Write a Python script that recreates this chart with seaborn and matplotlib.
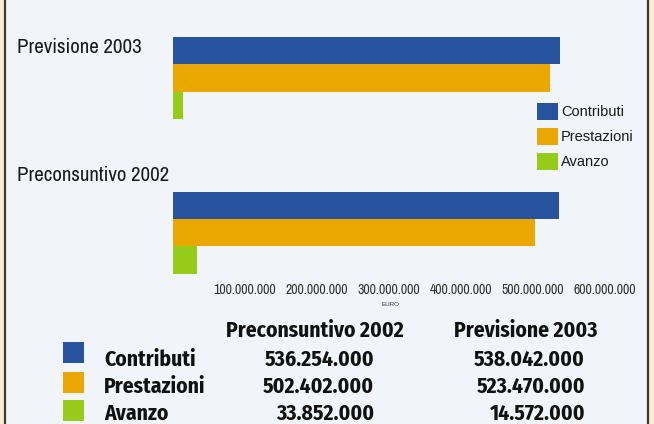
import matplotlib
matplotlib.use("Agg")
import matplotlib.pyplot as plt
from matplotlib.patches import Rectangle
import seaborn as sns
import pandas as pd

# ---- data ----
categories = ["Previsione 2003", "Preconsuntivo 2002"]
series = ["Contributi", "Prestazioni", "Avanzo"]
contributi = [538042000, 536254000]
prestazioni = [523470000, 502402000]
avanzo = [14572000, 33852000]
tick_values = [100000000, 200000000, 300000000, 400000000, 500000000, 600000000]
axis_label = "EURO"
table_columns = ["Preconsuntivo 2002", "Previsione 2003"]

colors = ["#27529e", "#e9a700", "#96cb1b"]
panel_bg = "#f1f4f8"
outer_bg = "#fdecd4"
COND = ["Archivo Narrow", "DejaVu Sans"]
BOLDC = ["Fira Sans Condensed", "DejaVu Sans"]

W, H = 654, 424

def px(x, y):
    return x / W, 1 - y / H

def fmt(v):
    return f"{v:,}".replace(",", ".")

sns.set_theme(style="white")
plt.rcParams["font.family"] = ["Liberation Sans", "DejaVu Sans"]

rows = []
for s, vals in zip(series, [contributi, prestazioni, avanzo]):
    for c, v in zip(categories, vals):
        rows.append({"categoria": c, "serie": s, "valore": v})
df = pd.DataFrame(rows)

fig = plt.figure(figsize=(W / 100, H / 100), dpi=100)
fig.patch.set_facecolor(outer_bg)
fig.patches.append(Rectangle((5.5 / W, -0.01), (647.5 - 5.5) / W, 1.02,
                             transform=fig.transFigure, facecolor=panel_bg,
                             edgecolor="#3a3a3a", linewidth=1.6, zorder=-5))

ax_left, ax_top, ax_bottom = 173, 0, 280
ax_right = 173 + 620 * 0.72
ax = fig.add_axes([ax_left / W, 1 - ax_bottom / H, (ax_right - ax_left) / W,
                   (ax_bottom - ax_top) / H])
ax.set_facecolor("none")
ax.set_zorder(1)

sns.barplot(data=df, y="categoria", x="valore", hue="serie", order=categories,
            hue_order=series, palette=colors, orient="h", width=0.53,
            saturation=1, ax=ax, linewidth=0, legend=True)

ax.set_xlim(0, 620000000)
ax.set_ylim(1.307, -0.505)
for sp in ax.spines.values():
    sp.set_visible(False)
ax.set_yticks([])
ax.set_ylabel("")
ax.set_xlabel("")
ax.set_xticks(tick_values)
ax.set_xticklabels([fmt(v) for v in tick_values], family=COND, fontsize=10,
                   color="#333333")
ax.tick_params(axis="x", length=0, pad=2)

fig.text(*px(390, 305), axis_label, ha="center", va="center", fontsize=4.5,
         color="#333333", family=["Liberation Sans", "DejaVu Sans"])

# category labels above the bar groups
for c, yb in zip(categories, [53, 181]):
    fig.text(*px(17, yb), c, ha="left", va="baseline", fontsize=15,
             family=COND, color="#1a1a1a")

# legend
handles, labels = ax.get_legend_handles_labels()
if ax.get_legend() is not None:
    ax.get_legend().remove()
fig.legend(handles, labels, loc="upper left", bbox_to_anchor=px(537, 103),
           bbox_transform=fig.transFigure, frameon=False, borderpad=0,
           borderaxespad=0, handlelength=1.44, handleheight=1.44,
           labelspacing=0.52, handletextpad=0.2, fontsize=10.5,
           labelcolor="#1a1a1a")

# data table below the chart
hdr_x = [315, 526]
FS = 15.5
WT = "bold"
for t, xc in zip(table_columns, hdr_x):
    fig.text(*px(xc, 337), t, ha="center", va="baseline", fontsize=FS,
             family=BOLDC, weight=WT, color="#111111")

col_right = [374, 585]
row_base = [366, 393, 420]
row_sq_top = [342, 372, 400]
for s, vals, col, yb, yt in zip(series, [contributi, prestazioni, avanzo],
                                colors, row_base, row_sq_top):
    fig.patches.append(Rectangle(px(63, yt + 21), 21 / W, 21 / H,
                                 transform=fig.transFigure, facecolor=col,
                                 edgecolor="none", zorder=2))
    fig.text(*px(104, yb), s, ha="left", va="baseline", fontsize=FS,
             family=BOLDC, weight=WT, color="#111111")
    # table columns: 2002 then 2003 (vals are ordered 2003, 2002)
    for v, xr in zip([vals[1], vals[0]], col_right):
        fig.text(*px(xr, yb), fmt(v), ha="right", va="baseline",
                 fontsize=FS, family=BOLDC, weight=WT, color="#111111")

fig.savefig("out.png", dpi=100, facecolor=fig.get_facecolor())
